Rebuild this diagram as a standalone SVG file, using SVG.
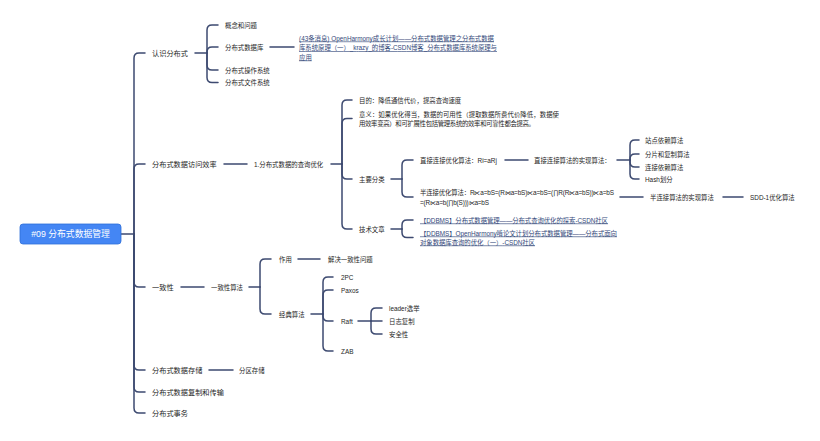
<svg xmlns="http://www.w3.org/2000/svg" width="820" height="441" viewBox="0 0 820 441">
<style>
text{font-family:"Liberation Sans","Noto Sans CJK SC",sans-serif;fill:#262626;dominant-baseline:central}
.l1{font-size:7.2px}
.t{font-size:6.4px}
.lk{font-size:6.4px;fill:#34497a;text-decoration:underline}
.root{font-size:8.8px;fill:#ffffff;text-anchor:middle}
#connectors path{fill:none;stroke:#3d4a70;stroke-width:1.5;stroke-linecap:round}
</style>
<rect width="820" height="441" fill="#ffffff"/>
<g id="connectors">
<path d="M121,234 L134,234"/>
<path d="M134,234 L134,58 Q134,53 139,53 L145,53"/>
<path d="M134,234 L134,169 Q134,164 139,164 L145,164"/>
<path d="M134,234 L134,282 Q134,287 139,287 L145,287"/>
<path d="M134,234 L134,365 Q134,370 139,370 L145,370"/>
<path d="M134,234 L134,387 Q134,392 139,392 L145,392"/>
<path d="M134,234 L134,408 Q134,413 139,413 L145,413"/>
<path d="M195,53 L207,53"/>
<path d="M207,53 L207,30 Q207,25 212,25 L218,25"/>
<path d="M207,53 L207,52 Q207,47 212,47 L218,47"/>
<path d="M207,53 L207,65 Q207,70 212,70 L218,70"/>
<path d="M207,53 L207,77.5 Q207,82.5 212,82.5 L218,82.5"/>
<path d="M270,47 L294,47"/>
<path d="M224,164 L247,164"/>
<path d="M331,164 L342,164"/>
<path d="M342,164 L342,105 Q342,100 347,100 L352,100"/>
<path d="M342,164 L342,123.5 Q342,118.5 347,118.5 L352,118.5"/>
<path d="M342,164 L342,174 Q342,179 347,179 L352,179"/>
<path d="M342,164 L342,224 Q342,229 347,229 L352,229"/>
<path d="M391,179 L402,179"/>
<path d="M402,179 L402,165 Q402,160 407,160 L413,160"/>
<path d="M402,179 L402,192 Q402,197 407,197 L413,197"/>
<path d="M505,160 L528,160"/>
<path d="M617,160 L630,160"/>
<path d="M630,160 L630,145 Q630,140 635,140 L639,140"/>
<path d="M630,160 L630,159 Q630,154 635,154 L639,154"/>
<path d="M630,160 L630,162 Q630,167 635,167 L639,167"/>
<path d="M630,160 L630,174 Q630,179 635,179 L639,179"/>
<path d="M620,197 L643,197"/>
<path d="M723,197 L743,197"/>
<path d="M391,229 L402,229"/>
<path d="M402,229 L402,225 Q402,220 407,220 L413,220"/>
<path d="M402,229 L402,232.5 Q402,237.5 407,237.5 L413,237.5"/>
<path d="M181,287 L204,287"/>
<path d="M249,287 L260,287"/>
<path d="M260,287 L260,264 Q260,259 265,259 L271,259"/>
<path d="M260,287 L260,309 Q260,314 265,314 L271,314"/>
<path d="M298,259 L320,259"/>
<path d="M311,314 L323,314"/>
<path d="M323,314 L323,282 Q323,277 328,277 L333,277"/>
<path d="M323,314 L323,295 Q323,290 328,290 L333,290"/>
<path d="M323,314 L323,316 Q323,321 328,321 L333,321"/>
<path d="M323,314 L323,346 Q323,351 328,351 L333,351"/>
<path d="M358,321 L371,321"/>
<path d="M371,321 L371,313 Q371,308 376,308 L382,308"/>
<path d="M371,321 L382,321"/>
<path d="M371,321 L371,329 Q371,334 376,334 L382,334"/>
<path d="M209,370 L233,370"/>
</g>
<g id="root"><rect x="20" y="224" width="101" height="20" rx="3" fill="#4486f4" stroke="#2f6fd8" stroke-width="0.8"/><text class="root" x="70.5" y="234">#09 分布式数据管理</text></g>
<g id="n-renshi"><text class="l1" x="152" y="53">认识分布式</text></g>
<g id="n-gainian"><text class="t" x="225" y="25">概念和问题</text></g>
<g id="n-fbsjk"><text class="t" x="225" y="47">分布式数据库</text></g>
<g id="n-link1"><text class="lk" x="299" y="38" textLength="195">(43条消息) OpenHarmony成长计划——分布式数据管理之分布式数据</text><text class="lk" x="299" y="47.5" textLength="198">库系统原理（一）_krazy_的博客-CSDN博客_分布式数据库系统原理与</text><text class="lk" x="299" y="57">应用</text></g>
<g id="n-czxt"><text class="t" x="225" y="70">分布式操作系统</text></g>
<g id="n-wjxt"><text class="t" x="225" y="82.5">分布式文件系统</text></g>
<g id="n-fwxl"><text class="l1" x="152" y="164">分布式数据访问效率</text></g>
<g id="n-cxyh"><text class="t" x="254" y="164">1.分布式数据的查询优化</text></g>
<g id="n-mudi"><text class="t" x="359" y="100">目的：降低通信代价，提高查询速度</text></g>
<g id="n-yiyi"><text class="t" x="359" y="114" textLength="200">意义：如果优化得当，数据的可用性（提取数据所费代价降低，数据使</text><text class="t" x="359" y="123.5" textLength="176">用效率变高）和可扩展性包括管理系统的效率和可靠性都会提高。</text></g>
<g id="n-zyfl"><text class="t" x="359" y="179">主要分类</text></g>
<g id="n-zjlj"><text class="t" x="420" y="160">直接连接优化算法：Ri=aRj</text></g>
<g id="n-zjsx"><text class="t" x="534" y="160">直接连接算法的实现算法：</text></g>
<g id="n-zdyl"><text class="t" x="645" y="140">站点依赖算法</text></g>
<g id="n-fpfz"><text class="t" x="645" y="154">分片和复制算法</text></g>
<g id="n-ljyl"><text class="t" x="645" y="167">连接依赖算法</text></g>
<g id="n-hash"><text class="t" x="645" y="179">Hash划分</text></g>
<g id="n-blj"><text class="t" x="420" y="192.5" textLength="194">半连接优化算法：R⋉a=bS=(R⋈a=bS)⋉a=bS=(∏R(R⋉a=bS))⋉a=bS</text><text class="t" x="420" y="202.5" textLength="69">=(R⋉a=b(∏b(S)))⋉a=bS</text></g>
<g id="n-bljsx"><text class="t" x="650" y="197">半连接算法的实现算法</text></g>
<g id="n-sdd1"><text class="t" x="750" y="197">SDD-1优化算法</text></g>
<g id="n-jswz"><text class="t" x="359" y="229">技术文章</text></g>
<g id="n-ddbms1"><text class="lk" x="420" y="220" textLength="188">【DDBMS】分布式数据管理——分布式查询优化的探索-CSDN社区</text></g>
<g id="n-ddbms2"><text class="lk" x="420" y="233" textLength="197">【DDBMS】OpenHarmony啃论文计划分布式数据管理——分布式面向</text><text class="lk" x="420" y="242" textLength="115">对象数据库查询的优化（一）-CSDN社区</text></g>
<g id="n-yzx"><text class="l1" x="152" y="287">一致性</text></g>
<g id="n-yzxsf"><text class="t" x="211" y="287">一致性算法</text></g>
<g id="n-zuoyong"><text class="t" x="279" y="259">作用</text></g>
<g id="n-jjyzx"><text class="t" x="328" y="259">解决一致性问题</text></g>
<g id="n-jdsf"><text class="t" x="279" y="314">经典算法</text></g>
<g id="n-2pc"><text class="t" x="341" y="277">2PC</text></g>
<g id="n-paxos"><text class="t" x="341" y="290">Paxos</text></g>
<g id="n-raft"><text class="t" x="341" y="321">Raft</text></g>
<g id="n-leader"><text class="t" x="389" y="308">leader选举</text></g>
<g id="n-rzfz"><text class="t" x="389" y="321">日志复制</text></g>
<g id="n-aqx"><text class="t" x="389" y="334">安全性</text></g>
<g id="n-zab"><text class="t" x="341" y="351">ZAB</text></g>
<g id="n-cc"><text class="l1" x="152" y="370">分布式数据存储</text></g>
<g id="n-fqcc"><text class="t" x="239" y="370">分区存储</text></g>
<g id="n-fzcs"><text class="l1" x="152" y="392">分布式数据复制和传输</text></g>
<g id="n-sw"><text class="l1" x="152" y="413">分布式事务</text></g>
</svg>
